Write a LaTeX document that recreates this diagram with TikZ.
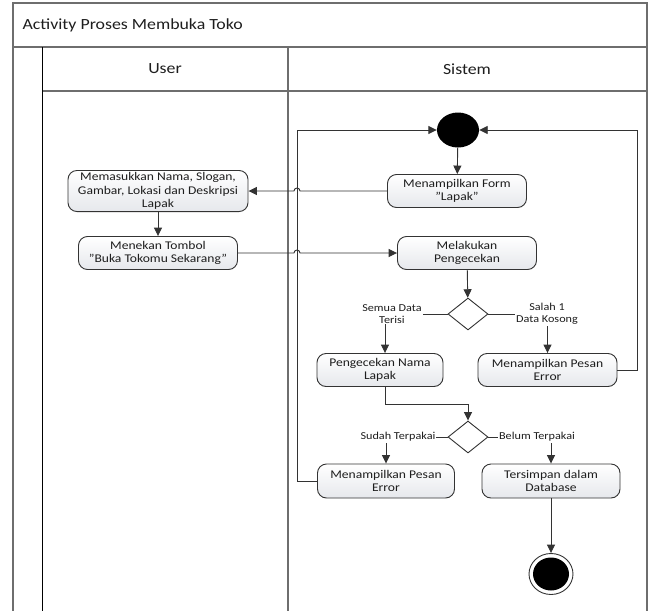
\documentclass[tikz,border=0pt]{standalone}
\usepackage{fontspec}
\setmainfont{Carlito}[FakeStretch=1.15]
\usetikzlibrary{arrows.meta,shapes.geometric,calc}

\definecolor{framegray}{HTML}{6E6E6E}
\definecolor{linegray}{HTML}{333333}
\definecolor{textcol}{HTML}{1E1E1E}
\definecolor{nodefill}{HTML}{E6E8EC}
% straight double quote, bypassing the TeX ligature mapping
\newcommand{\sq}{\char"0022\relax}

\begin{document}
\begin{tikzpicture}[x=1pt,y=-1pt,
  frame/.style={draw=framegray,line width=1.4pt},
  act/.style={draw=linegray,line width=0.9pt,rounded corners=9pt,
    top color=white,bottom color=nodefill,minimum height=33pt,
    align=center,inner sep=2pt,text=textcol,
    font=\fontsize{11.8pt}{13.5pt}\selectfont},
  decision/.style={diamond,draw=linegray,line width=0.9pt,fill=white,
    minimum width=40pt,minimum height=32pt,inner sep=0pt,aspect=1.25},
  flow/.style={draw=linegray,line width=0.9pt,-{Triangle[length=8.5pt,width=8pt]}},
  lbl/.style={fill=white,inner sep=1pt,align=center,text=textcol,
    font=\fontsize{10.6pt}{12pt}\selectfont},
  head/.style={text=textcol,font=\fontsize{15.5pt}{18pt}\selectfont}
]
\useasboundingbox (0,0) rectangle (649,611);
\fill[white] (0,0) rectangle (649,611);

% swimlane frame
\draw[frame] (13,611) -- (13,3) -- (647,3) -- (647,611);
\draw[frame] (13,47) -- (647,47);
\draw[frame] (42,91) -- (647,91);
\draw[draw=black,line width=0.9pt] (42,47) -- (42,611);
\draw[frame] (288,47) -- (288,611);

\node[head,anchor=west] (title) at (19,25) {Activity Proses Membuka Toko};
\node[head] (laneuser) at (165,69) {User};
\node[head] (lanesys) at (467,69) {Sistem};

% activities
\node[ellipse,fill=black,minimum width=42pt,minimum height=35pt,inner sep=0pt] (start) at (458,130) {};
\node[act,minimum width=139pt] (form) at (457,191) {Menampilkan Form\\\sq Lapak\sq};
\node[act,minimum width=180pt,minimum height=39pt] (input) at (158,191) {Memasukkan Nama, Slogan,\\Gambar, Lokasi dan Deskripsi\\Lapak};
\node[act,minimum width=159pt] (tombol) at (158,253) {Menekan Tombol\\\sq Buka Tokomu Sekarang\sq};
\node[act,minimum width=139pt] (cek) at (467,253) {Melakukan\\Pengecekan};
\node[decision] (d1) at (468,314) {};
\node[act,minimum width=126pt] (nama) at (380,370) {Pengecekan Nama\\Lapak};
\node[act,minimum width=139pt] (err1) at (547.5,370) {Menampilkan Pesan\\Error};
\node[decision] (d2) at (468,437) {};
\node[act,minimum width=137pt,minimum height=34pt] (err2) at (386,481) {Menampilkan Pesan\\Error};
\node[act,minimum width=138pt,minimum height=34pt] (db) at (551,481) {Tersimpan dalam\\Database};
\node[ellipse,draw=linegray,line width=0.9pt,fill=white,minimum width=44pt,minimum height=41pt,inner sep=0pt] (endo) at (551,574) {};
\node[ellipse,fill=black,minimum width=36pt,minimum height=33pt,inner sep=0pt] (endi) at (551,574) {};

% loop-back lanes and line hops
\coordinate (hopx) at (297,0);
\coordinate (loopL) at (297,130);
\coordinate (loopR) at (637,130);

% connectors
\draw[flow] (start) -- (form);
\draw[flow] (form.west) -- ($(form.west -| hopx)+(3,0)$)
  arc[start angle=0,end angle=180,radius=3pt] -- (input.east);
\draw[flow] (input) -- (tombol);
\draw[flow] (tombol.east) -- ($(tombol.east -| hopx)+(-3,0)$)
  arc[start angle=180,end angle=0,radius=3pt] -- (cek.west);
\draw[flow] (cek) -- (d1);
\draw[flow] (d1.west) -| ($(nama.north)+(5,0)$);
\draw[flow] (d1.east) -| (err1.north);
\draw[flow] (err1.east) -| (loopR) -- (start.east);
\draw[flow] ($(nama.south)+(5,0)$) -- ++(0,17) -| (d2.north);
\draw[flow] (d2.west) -| (err2.north);
\draw[flow] (d2.east) -| (db.north);
\draw[flow] (err2.west) -| (loopL) -- (start.west);
\draw[flow] (db) -- (endo);

% guard labels
\node[lbl] (g1) at (392,314) {Semua Data\\Terisi};
\node[lbl] (g2) at (547,314) {Salah 1\\Data Kosong};
\node[lbl] (g3) at (398,437) {Sudah Terpakai};
\node[lbl] (g4) at (537,437) {Belum Terpakai};
\end{tikzpicture}
\end{document}
